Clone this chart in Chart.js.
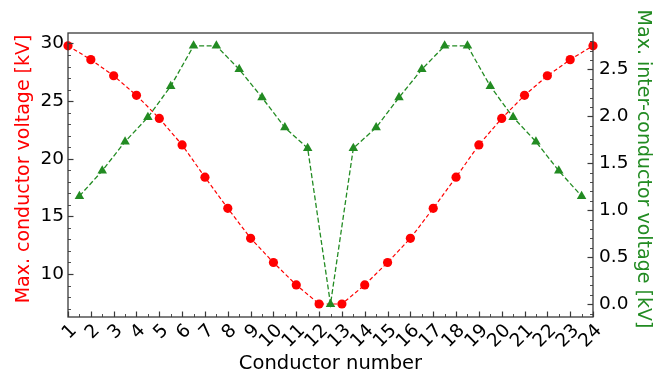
<!DOCTYPE html>
<html>
<head>
<meta charset="utf-8">
<script src="https://cdn.jsdelivr.net/npm/chart.js@4/dist/chart.umd.min.js"></script>
<style>
  html, body { margin: 0; padding: 0; background: #fff; }
  #wrap { width: 662px; height: 373px; }
</style>
</head>
<body>
<div id="wrap"><canvas id="c" width="662" height="373"></canvas></div>
<script>
// conductor numbers and the two measured series
const conductors = [1,2,3,4,5,6,7,8,9,10,11,12,13,14,15,16,17,18,19,20,21,22,23,24];
const conductorVoltage = [29.8, 28.6, 27.2, 25.5, 23.5, 21.2, 18.4, 15.7, 13.1, 11.0, 9.05, 7.4,
                          7.4, 9.05, 11.0, 13.1, 15.7, 18.4, 21.2, 23.5, 25.5, 27.2, 28.6, 29.8];
// inter-conductor positions sit between two conductors
const gapPositions = [1.5,2.5,3.5,4.5,5.5,6.5,7.5,8.5,9.5,10.5,11.5,12.5,
                      13.5,14.5,15.5,16.5,17.5,18.5,19.5,20.5,21.5,22.5,23.5];
const interVoltage = [1.15, 1.42, 1.73, 1.99, 2.32, 2.75, 2.75, 2.50, 2.20, 1.88, 1.66, 0.0,
                      1.66, 1.88, 2.20, 2.50, 2.75, 2.75, 2.32, 1.99, 1.73, 1.42, 1.15];

// tick labels
const xTicks = conductors;
const leftTicks = [10, 15, 20, 25, 30];
const rightTicks = [0.0, 0.5, 1.0, 1.5, 2.0, 2.5];

const RED = '#ff0000';
const GREEN = '#228b22';
const FONT = 'DejaVu Sans';

// matplotlib-ish inward ticks + frame
const frameTicks = {
  id: 'frameTicks',
  afterDatasetsDraw(chart) {
    const {ctx, chartArea: a, scales} = chart;
    const x = scales.x, yl = scales.y, yr = scales.y2;
    ctx.save();
    ctx.strokeStyle = '#3a3a3a';
    const tick = (x0, y0, x1, y1, w) => {
      ctx.lineWidth = w;
      ctx.beginPath(); ctx.moveTo(x0, y0); ctx.lineTo(x1, y1); ctx.stroke();
    };
    // x: major at integers, minor at halves
    for (let v = 1; v <= 24; v += 0.5) {
      const px = Math.round(x.getPixelForValue(v)) + 0.5;
      const major = Number.isInteger(v);
      tick(px, a.bottom, px, a.bottom - (major ? 5.5 : 3), major ? 1.2 : 0.9);
    }
    // left axis: major every 5, minor every 1
    for (let v = 7; v <= 30; v += 1) {
      const py = Math.round(yl.getPixelForValue(v)) + 0.5;
      const major = v % 5 === 0;
      tick(a.left, py, a.left + (major ? 5.5 : 3), py, major ? 1.2 : 0.9);
    }
    // right axis: major every 0.5, minor every 0.1
    for (let i = -1; i <= 28; i++) {
      const v = i / 10;
      const py = Math.round(yr.getPixelForValue(v)) + 0.5;
      const major = i % 5 === 0;
      tick(a.right, py, a.right - (major ? 5.5 : 3), py, major ? 1.2 : 0.9);
    }
    ctx.lineWidth = 1.3;
    ctx.strokeRect(a.left, a.top, a.right - a.left, a.bottom - a.top);
    ctx.restore();
  }
};

const fixedTicks = list => scale => { scale.ticks = list.map(v => ({value: v})); };

new Chart(document.getElementById('c'), {
  type: 'scatter',
  data: {
    datasets: [
      {
        label: 'inter',
        data: gapPositions.map((p, i) => ({x: p, y: interVoltage[i]})),
        yAxisID: 'y2',
        showLine: true,
        borderColor: GREEN,
        backgroundColor: GREEN,
        borderWidth: 1.3,
        borderDash: [5, 2.5],
        pointStyle: 'triangle',
        pointRadius: 5.5,
        pointBorderWidth: 0,
        order: 0
      },
      {
        label: 'conductor',
        data: conductors.map((c, i) => ({x: c, y: conductorVoltage[i]})),
        yAxisID: 'y',
        showLine: true,
        borderColor: RED,
        backgroundColor: RED,
        borderWidth: 1.2,
        borderDash: [4, 2.5],
        pointStyle: 'circle',
        pointRadius: 4.6,
        pointBorderWidth: 0,
        order: 1
      }
    ]
  },
  options: {
    responsive: false,
    animation: false,
    clip: false,
    layout: { padding: { top: 33, left: 0, right: 0, bottom: 0 } },
    plugins: { legend: { display: false }, tooltip: { enabled: false } },
    scales: {
      x: {
        type: 'linear',
        min: 1, max: 24,
        afterBuildTicks: fixedTicks(xTicks),
        afterFit: s => { s.height = 56; },
        grid: { display: false, drawTicks: false },
        border: { display: false },
        ticks: {
          autoSkip: false, minRotation: 45, maxRotation: 45,
          padding: 3, labelOffset: 6,
          color: '#000', font: { family: FONT, size: 18.5 }
        },
        title: {
          display: true, text: 'Conductor number', color: '#000',
          font: { family: FONT, size: 19.5 }, padding: { top: 0, bottom: -3 }
        }
      },
      y: {
        position: 'left',
        min: 6.27, max: 30.91,
        afterBuildTicks: fixedTicks(leftTicks),
        afterFit: s => { s.width = 68; },
        grid: { display: false, drawTicks: false },
        border: { display: false },
        ticks: { padding: 4, color: '#000', font: { family: FONT, size: 18.5 } },
        title: {
          display: true, text: '  Max. conductor voltage [kV]', color: RED,
          font: { family: FONT, size: 19 }, padding: { top: 13, bottom: 0 }
        }
      },
      y2: {
        position: 'right',
        min: -0.137, max: 2.887,
        afterBuildTicks: fixedTicks(rightTicks),
        afterFit: s => { s.width = 69; },
        grid: { display: false, drawTicks: false },
        border: { display: false },
        ticks: {
          padding: 6, color: '#000', font: { family: FONT, size: 18.5 },
          callback: v => v.toFixed(1)
        },
        title: {
          display: true, text: 'Max. inter-conductor voltage [kV]  ', color: GREEN,
          font: { family: FONT, size: 19 }, padding: { top: 8, bottom: 0 }
        }
      }
    }
  },
  plugins: [frameTicks]
});
</script>
</body>
</html>
